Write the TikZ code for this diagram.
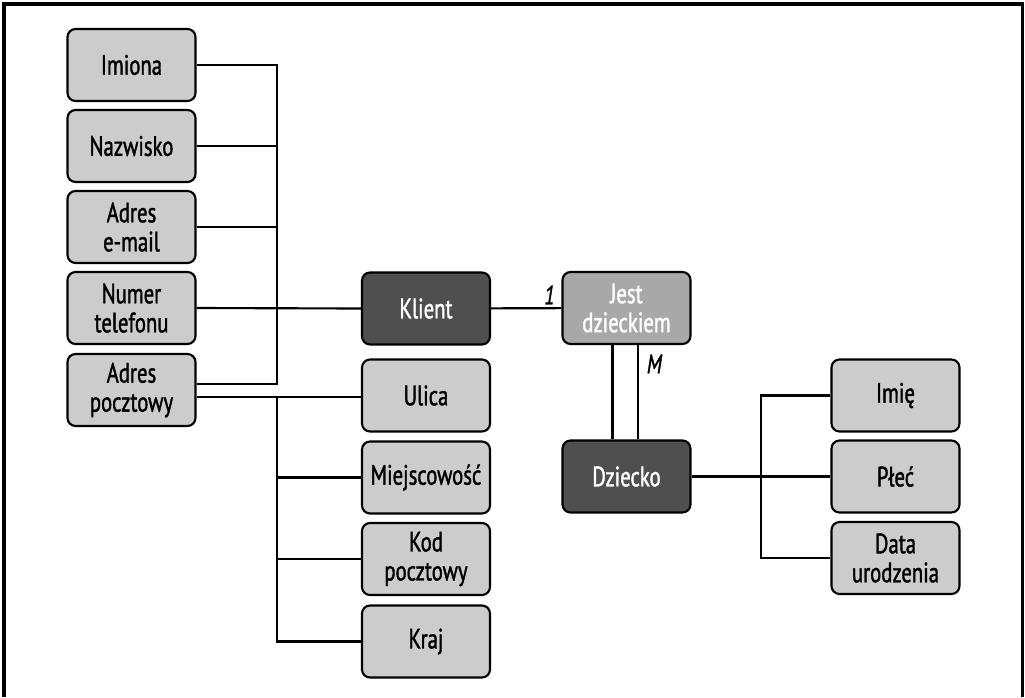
\documentclass[tikz,border=0pt]{standalone}
\usepackage{fontspec}
\setmainfont{PT Sans}[FakeStretch=0.74, FakeBold=1.3]
\usepackage{xcolor}
\usepackage{tikz}
\usetikzlibrary{positioning}
\pgfdeclarelayer{nodelayer}
\pgfdeclarelayer{edgelayer}
\pgfsetlayers{nodelayer,edgelayer,main}
\definecolor{attrgray}{HTML}{CCCCCC}
\definecolor{entgray}{HTML}{4F4F4F}
\definecolor{relgray}{HTML}{A8A8A8}
\tikzset{
    attr/.style = {draw, line width=1.6pt, rounded corners=6pt, fill=attrgray,
                   minimum width=96pt, minimum height=54pt, align=center,
                   font=\fontsize{21}{21.75}\selectfont},
    entity/.style = {attr, fill=entgray, text=white},
    rel/.style = {attr, fill=relgray, text=white},
    link/.style = {line width=1.6pt},
    card/.style = {font=\fontsize{20}{20}\selectfont\itshape, inner sep=2pt}
}
\begin{document}
\begin{tikzpicture}[x=0.75pt, y=-0.75pt]
  \useasboundingbox (0, 0) rectangle (1025, 697);
  \draw [line width=2.6pt] (4, 697) -- (4, 4) -- (1022.5, 4) -- (1022.5, 697);
  \begin{pgfonlayer}{nodelayer}
    \node [style=attr] (0) at (131.5, 65) {Imiona};
    \node [style=attr] (1) at (131.5, 146) {Nazwisko};
    \node [style=attr] (2) at (131.5, 227) {Adres\\e-mail};
    \node [style=attr] (3) at (131.5, 308) {Numer\\telefonu};
    \node [style=attr] (4) at (131.5, 390) {Adres\\pocztowy};
    \node [style=entity] (5) at (426, 308.5) {Klient};
    \node [style=attr] (6) at (426, 395.5) {Ulica};
    \node [style=attr] (7) at (426, 477.5) {Miejscowość};
    \node [style=attr] (8) at (426, 559) {Kod\\pocztowy};
    \node [style=attr] (9) at (426, 641.5) {Kraj};
    \node [style=rel] (10) at (626.5, 308) {Jest\\dzieckiem};
    \node [style=entity] (11) at (626.5, 476.5) {Dziecko};
    \node [style=attr] (12) at (895.5, 395.5) {Imię};
    \node [style=attr] (13) at (895.5, 476.5) {Płeć};
    \node [style=attr] (14) at (895.5, 558) {Data\\urodzenia};
  \end{pgfonlayer}
  \coordinate (20) at (277, 0);
  \coordinate (21) at ([yshift=4.5pt]4.east);
  \coordinate (22) at ([yshift=-5pt]4.east);
  \coordinate (23) at (761, 0);
  \begin{pgfonlayer}{edgelayer}
    \draw [style=link] (0.east) -- (0.east -| 20) -- (21 -| 20) -- (21);
    \draw [style=link] (1.east) -- (1.east -| 20);
    \draw [style=link] (2.east) -- (2.east -| 20);
    \draw [style=link] (3.east) -- (5.west);
    \draw [style=link] (22) -- (22 -| 6.west);
    \draw [style=link] (22 -| 20) -- (9.west -| 20) -- (9.west);
    \draw [style=link] (7.west -| 20) -- (7.west);
    \draw [style=link] (8.west -| 20) -- (8.west);
    \draw [style=link] (5) -- node [style=card, pos=0.83, above] {1} (10);
    \draw [style=link] ([xshift=-10.5pt]10.south) -- ([xshift=-10.5pt]11.north);
    \draw [style=link] ([xshift=8.5pt]10.south) -- node [style=card, pos=0.2, right=4pt] {M} ([xshift=8.5pt]11.north);
    \draw [style=link] (11) -- (13);
    \draw [style=link] (12.west) -- (12.west -| 23) -- (14.west -| 23) -- (14.west);
  \end{pgfonlayer}
\end{tikzpicture}
\end{document}
